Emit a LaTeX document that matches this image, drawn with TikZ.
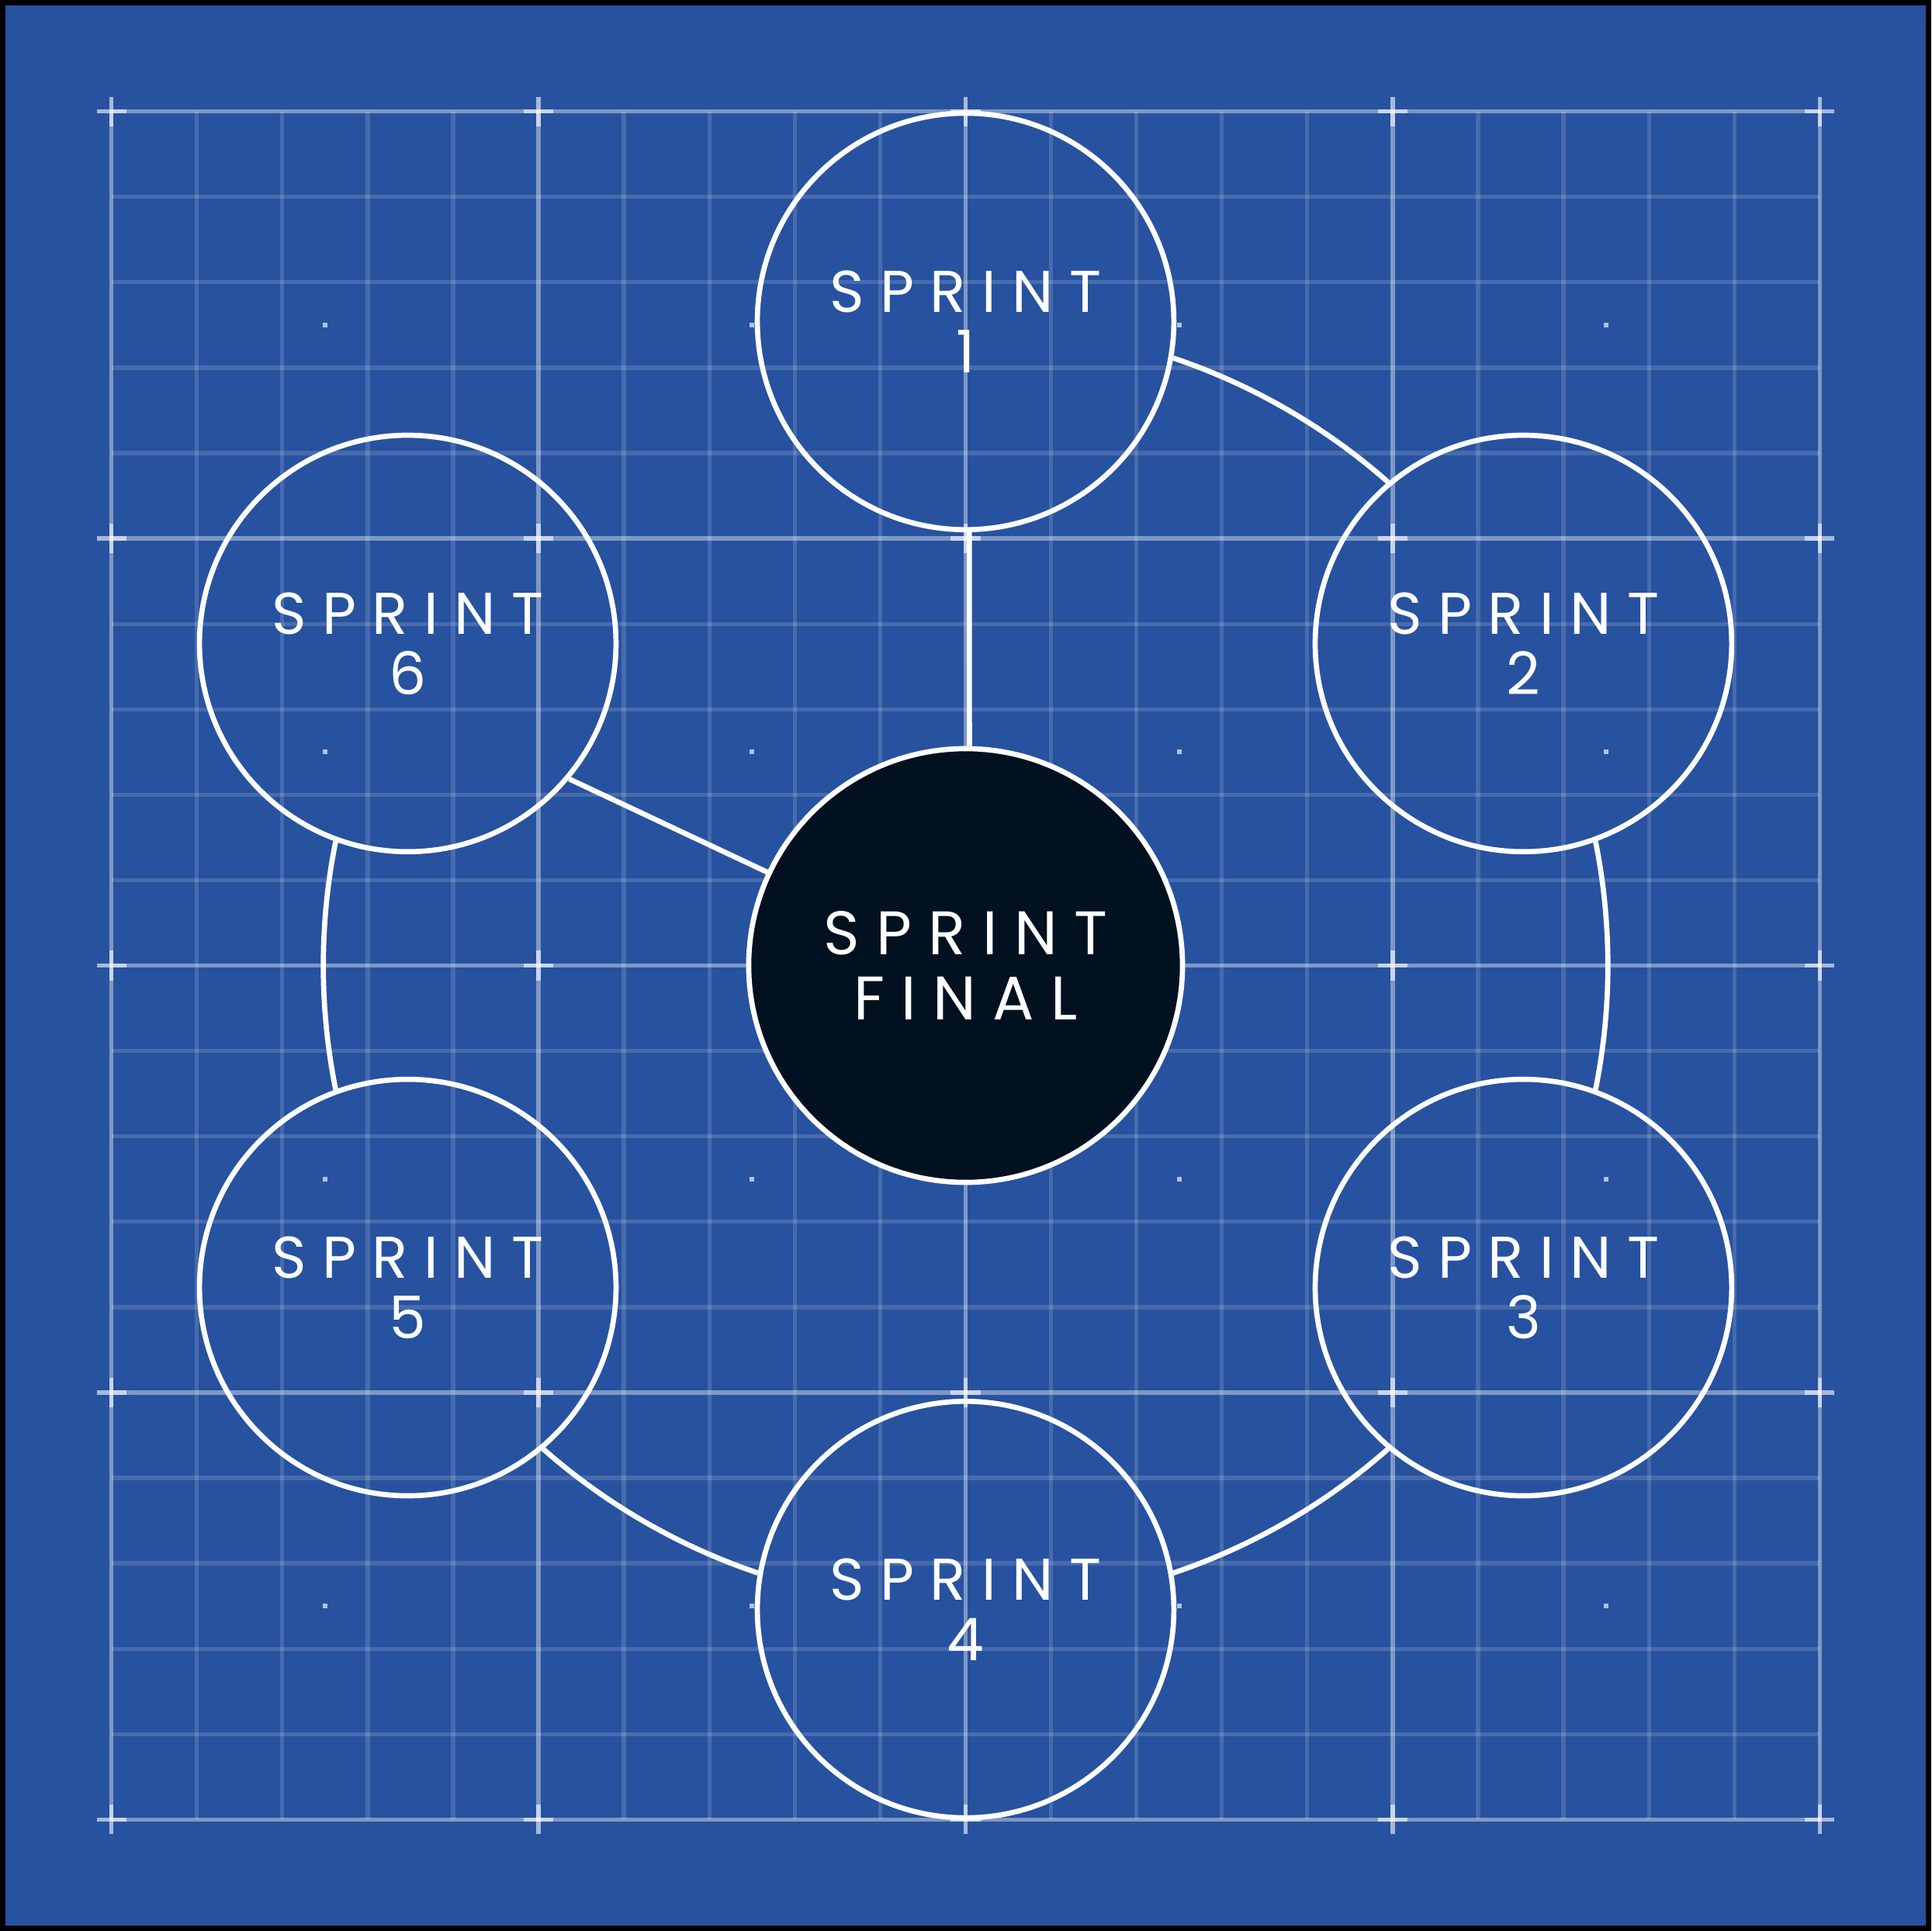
\documentclass[tikz,border=0pt]{standalone}
\usepackage{fontspec}
\newfontfamily\sprintfont[LetterSpace=27]{Poppins}
\definecolor{planblue}{RGB}{39,82,159}
\definecolor{finalnavy}{RGB}{2,17,31}

\begin{document}
\begin{tikzpicture}[x=0.01cm,y=0.01cm,
  sprint/.style={circle,draw=white,line width=1.2pt,minimum size=3.38cm,inner sep=0pt,
    text=white,align=center,font=\sprintfont\fontsize{13.6}{14}\selectfont},
  final/.style={sprint,fill=finalnavy,minimum size=3.52cm,
    font=\sprintfont\fontsize{14.2}{15}\selectfont},
  link/.style={draw=white,line width=1.2pt},
  ring/.style={link,bend left=11.4,looseness=0.86}]

% sheet and frame
\fill[black] (-784,-784) rectangle (784,784);
\fill[planblue] (-779.6,-779.6) rectangle (779.6,779.6);

% grid
\foreach \i in {-10,...,10}{
  \draw[white,opacity=0.15,line width=0.95pt] (\i*69.35,-693.5) -- (\i*69.35,693.5);
  \draw[white,opacity=0.15,line width=0.95pt] (-693.5,\i*69.35) -- (693.5,\i*69.35);
}
\foreach \i in {-2,...,2}{
  \draw[white,opacity=0.3,line width=0.95pt] (\i*346.75,-693.5) -- (\i*346.75,693.5);
  \draw[white,opacity=0.3,line width=0.95pt] (-693.5,\i*346.75) -- (693.5,\i*346.75);
}
\foreach \x in {-2,...,2}
  \foreach \y in {-2,...,2}{
    \draw[white,opacity=0.6,line width=1pt] (\x*346.75-12,\y*346.75) -- (\x*346.75+12,\y*346.75);
    \draw[white,opacity=0.6,line width=1pt] (\x*346.75,\y*346.75-12) -- (\x*346.75,\y*346.75+12);
  }
\foreach \x in {-1.5,-0.5,0.5,1.5}
  \foreach \y in {-1.5,-0.5,0.5,1.5}
    \fill[white,opacity=0.65] (\x*346.75-2,\y*346.75-2) rectangle ++(4,4);

% sprints
\node[sprint] (s1) at (90:523) {SPRINT\\1};
\node[sprint] (s2) at (30:523) {SPRINT\\2};
\node[sprint] (s3) at (-30:523) {SPRINT\\3};
\node[sprint] (s4) at (-90:523) {SPRINT\\4};
\node[sprint] (s5) at (-150:523) {SPRINT\\5};
\node[sprint] (s6) at (150:523) {SPRINT\\6};
\node[final] (final) at (0,0) {SPRINT\\FINAL};

% links
\draw[link] (s1.-89) -- (final.89);
\draw[link] (s6.-40) -- (final);
\draw[ring] (s1.-10) to (s2.130);
\draw[ring] (s2.-70) to (s3.70);
\draw[ring] (s3.-130) to (s4.10);
\draw[ring] (s4.170) to (s5.-50);
\draw[ring] (s5.110) to (s6.-110);
\end{tikzpicture}
\end{document}
